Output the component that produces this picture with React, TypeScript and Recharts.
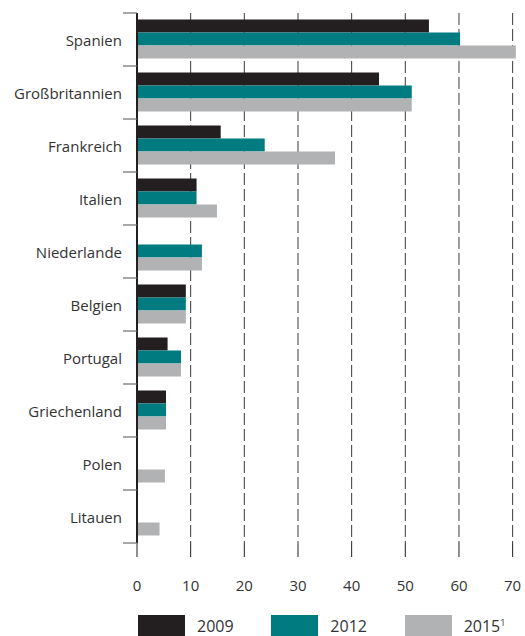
import React from 'react';
import { BarChart, Bar, XAxis, YAxis, CartesianGrid, Legend } from 'recharts';

const categories = ['Spanien', 'Großbritannien', 'Frankreich', 'Italien', 'Niederlande', 'Belgien', 'Portugal', 'Griechenland', 'Polen', 'Litauen'];
const v2009 = [54.4, 45.1, 15.6, 11.1, 0, 9.1, 5.7, 5.4, 0, 0];
const v2012 = [60.2, 51.2, 23.8, 11.1, 12.1, 9.1, 8.2, 5.4, 0, 0];
const v2015 = [70.6, 51.2, 36.9, 14.9, 12.1, 9.1, 8.2, 5.4, 5.2, 4.2];
const xTicks = [0, 10, 20, 30, 40, 50, 60, 70];
const X_MAX = 71;

const seriesDefs = [
  { key: 'y2009', label: '2009', sup: '', color: '#231f20' },
  { key: 'y2012', label: '2012', sup: '', color: '#007b80' },
  { key: 'y2015', label: '2015', sup: '1', color: '#b1b2b4' },
];

const data = categories.map((name, i) => ({
  name,
  y2009: v2009[i],
  y2012: v2012[i],
  y2015: v2015[i],
}));

const BAND = 53;

const YTick = (props: any) => {
  const { x, y, payload, index } = props;
  const last = index === categories.length - 1;
  return (
    <g>
      <line x1={x - 14} x2={x} y1={y - BAND / 2} y2={y - BAND / 2} stroke="#6d6e70" strokeWidth={1.2} />
      {last && (
        <line x1={x - 14} x2={x} y1={y + BAND / 2} y2={y + BAND / 2} stroke="#6d6e70" strokeWidth={1.2} />
      )}
      <text x={x - 15} y={y} dy={6} textAnchor="end" fontSize={15} fill="#333" fontFamily="Open Sans">
        {payload.value}
      </text>
    </g>
  );
};

const LegendContent = () => (
  <div style={{ display: 'flex', fontFamily: 'Open Sans' }}>
    {seriesDefs.map((s) => (
      <div key={s.key} style={{ width: 137.5, display: 'flex', alignItems: 'flex-start', height: 21 }}>
        <div style={{ width: 47, height: 21, background: s.color }} />
        <div style={{ marginLeft: 12, fontSize: 16, lineHeight: '18px', paddingTop: 2, color: '#333' }}>
          {s.label}
          {s.sup && <sup style={{ fontSize: 9, verticalAlign: 'top', position: 'relative', top: -3 }}>{s.sup}</sup>}
        </div>
      </div>
    ))}
  </div>
);

const gridX = (args: any) => {
  const off = args.offset || {};
  const left = off.left ?? 137;
  const width = off.width ?? 381;
  return xTicks.slice(1).map((t) => left + (t / X_MAX) * width);
};

export default function App() {
  return (
    <div style={{ position: 'absolute', left: 0, top: 0, width: 525, height: 636, background: '#fff', overflow: 'hidden' }}>
      <BarChart
        width={525}
        height={636}
        data={data}
        layout="vertical"
        margin={{ top: 13, right: 7, left: 0, bottom: 0 }}
        barCategoryGap={6.5}
        barGap={0}
        style={{ fontFamily: 'Open Sans' }}
      >
        <CartesianGrid
          horizontal={false}
          vertical={true}
          stroke="#3a3a3a"
          strokeDasharray="12 4"
          verticalCoordinatesGenerator={gridX}
        />
        <XAxis
          type="number"
          domain={[0, X_MAX]}
          ticks={xTicks}
          interval={0}
          axisLine={false}
          tickSize={14}
          tickMargin={23}
          tickLine={{ stroke: '#231f20' }}
          tick={{ fontSize: 15, fill: '#333', fontFamily: 'Open Sans' }}
          height={72}
        />
        <YAxis
          type="category"
          dataKey="name"
          width={137}
          tickLine={false}
          tickSize={0}
          tickMargin={0}
          axisLine={{ stroke: '#231f20', strokeWidth: 2 }}
          tick={<YTick />}
          interval={0}
        />
        <Legend
          content={<LegendContent />}
          wrapperStyle={{ position: 'absolute', top: 615, left: 138, width: 400, height: 21 }}
        />
        {seriesDefs.map((s) => (
          <Bar key={s.key} dataKey={s.key} fill={s.color} isAnimationActive={false} />
        ))}
      </BarChart>
    </div>
  );
}
